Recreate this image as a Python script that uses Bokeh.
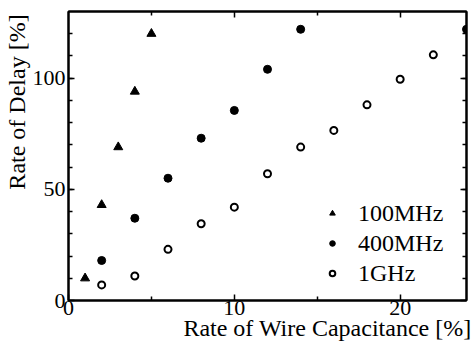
from bokeh.plotting import figure
from bokeh.models import LinearAxis, Range1d, FixedTicker, Legend, LegendItem, CustomJSTickFormatter
from bokeh.embed import file_html
from bokeh.resources import INLINE

# Data
x_100mhz = [1, 2, 3, 4, 5]
y_100mhz = [10, 43, 69, 94, 120]

x_400mhz = [2, 4, 6, 8, 10, 12, 14, 24]
y_400mhz = [18, 37, 55, 73, 85.5, 104, 122, 122]

x_1ghz = [2, 4, 6, 8, 10, 12, 14, 16, 18, 20, 22]
y_1ghz = [7, 11, 23, 34.5, 42, 57, 69, 76.5, 88, 99.5, 110.5]

x_ticks = [0, 10, 20]
y_ticks = [0, 50, 100]
series_names = ["100MHz", "400MHz", "1GHz"]
x_label = "Rate of Wire Capacitance [%]"
y_label = "Rate of Delay [%]"

FONT = "Liberation Serif"
NBSP = "\u00a0"

p = figure(width=471, height=344, output_backend="svg", toolbar_location=None,
           x_range=Range1d(0, 24), y_range=Range1d(0, 130),
           min_border_left=67, min_border_right=5, min_border_top=11, min_border_bottom=44,
           x_axis_location=None, y_axis_location=None)
p.grid.visible = False
p.background_fill_color = "white"
p.border_fill_color = "white"
p.outline_line_color = "black"
p.outline_line_width = 2
p.outline_line_alpha = 1.0

def style_axis(ax, show_labels):
    ax.axis_line_color = "black"
    ax.axis_line_width = 2
    ax.major_tick_line_color = "black"
    ax.minor_tick_line_color = "black"
    ax.major_tick_line_width = 1.5
    ax.minor_tick_line_width = 1.5
    ax.major_tick_in = 6
    ax.major_tick_out = 0
    ax.minor_tick_in = 4
    ax.minor_tick_out = 0
    if show_labels:
        ax.major_label_text_font = FONT
        ax.major_label_text_font_size = "22px"
        ax.major_label_text_color = "black"
        ax.axis_label_text_font = FONT
        ax.axis_label_text_font_size = "24px"
        ax.axis_label_text_font_style = "normal"
        ax.axis_label_text_color = "black"
        ax.axis_label_align = "center"
    else:
        ax.formatter = CustomJSTickFormatter(code="return ''")
        ax.major_label_standoff = 0

# leading no-break spaces shift the centred axis titles towards the axis ends,
# as in the reference
bottom = LinearAxis(ticker=FixedTicker(ticks=x_ticks, minor_ticks=[5, 15]),
                    axis_label=NBSP * 20 + x_label)
style_axis(bottom, True)
bottom.major_label_standoff = 0
bottom.axis_label_standoff = -3
p.add_layout(bottom, "below")

left = LinearAxis(ticker=FixedTicker(ticks=y_ticks, minor_ticks=list(range(10, 130, 10))),
                  axis_label=NBSP * 18 + y_label)
style_axis(left, True)
left.major_label_standoff = 3
left.axis_label_standoff = 0
p.add_layout(left, "left")

top = LinearAxis(ticker=FixedTicker(ticks=[10, 20], minor_ticks=[5, 15]))
style_axis(top, False)
p.add_layout(top, "above")

right = LinearAxis(ticker=FixedTicker(ticks=y_ticks, minor_ticks=list(range(10, 130, 10))))
style_axis(right, False)
p.add_layout(right, "right")

r1 = p.scatter(x_100mhz, y_100mhz, marker="triangle", size=9,
               fill_color="black", line_color="black")
r2 = p.scatter(x_400mhz, y_400mhz, marker="circle", size=8,
               fill_color="black", line_color="black")
r3 = p.scatter(x_1ghz, y_1ghz, marker="circle", size=7,
               fill_color="white", line_color="black", line_width=2)

legend = Legend(items=[LegendItem(label=series_names[0], renderers=[r1]),
                       LegendItem(label=series_names[1], renderers=[r2]),
                       LegendItem(label=series_names[2], renderers=[r3])],
                location=(257, 12), orientation="vertical",
                background_fill_alpha=0, border_line_alpha=0,
                padding=0, margin=0, spacing=0,
                glyph_width=14, glyph_height=30, label_height=30,
                label_standoff=19,
                label_text_font=FONT, label_text_font_size="24px",
                label_text_color="black")
p.add_layout(legend, "center")

open("out.html", "w").write(file_html(p, INLINE))
